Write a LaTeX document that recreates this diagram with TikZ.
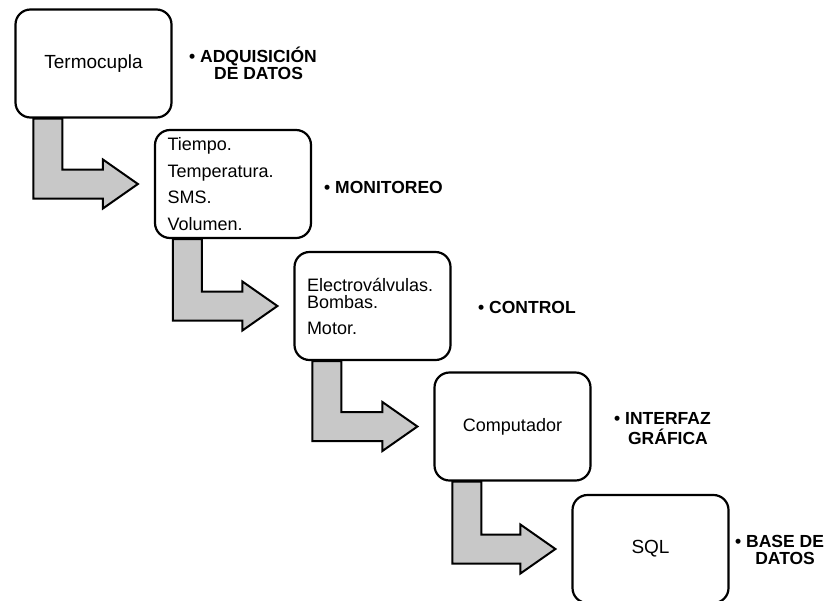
\documentclass[tikz,border=0pt]{standalone}
\usepackage{fontspec}
\setmainfont{Liberation Sans}
\usetikzlibrary{calc,backgrounds}
\definecolor{grisf}{RGB}{200,200,200}

\tikzset{
  caja/.style={draw, line width=2.2pt, rounded corners=15pt, fill=white,
    minimum width=156pt, minimum height=108pt, inner xsep=12.5pt,
    font=\fontsize{18}{26.5}\selectfont},
  lista/.style={text width=131pt, align=left},
  etiqueta/.style={inner sep=0pt, anchor=base west,
    font=\bfseries\fontsize{17.5}{16.5}\selectfont},
  flecha/.style={draw, line width=2pt, fill=grisf, line join=miter}
}

\begin{document}
\begin{tikzpicture}[x=1pt,y=-1pt]
  \useasboundingbox (0,0) rectangle (834,600);

  % cajas
  \node [caja, font=\fontsize{19}{23}\selectfont] (term) at (93.5,63.5) {Termocupla};
  \node [caja, lista] (mon) at (233,184)
    {Tiempo.\\ Temperatura.\\ SMS.\\ Volumen.};
  \node [caja, lista, font=\fontsize{18}{17}\selectfont] (ctrl) at (372.5,306)
    {Electroválvulas.\\ Bombas.\\[9pt] Motor.};
  \node [caja] (comp) at (512.5,426.5) {Computador};
  \node [caja, font=\fontsize{19}{23}\selectfont] (sql) at (650.5,549) {SQL};

  % etiquetas
  \node [etiqueta] (ladq) at (189,62)
    {\textbullet\ \begin{tabular}[t]{@{}c@{}}ADQUISICIÓN\\DE DATOS\end{tabular}};
  \node [etiqueta] (lmon) at (324,193) {\textbullet\ MONITOREO};
  \node [etiqueta] (lctrl) at (478,313) {\textbullet\ CONTROL};
  \node [etiqueta] (lint) at (614,424)
    {\textbullet\ \begin{tabular}[t]{@{}c@{}}INTERFAZ\\GRÁFICA\end{tabular}};
  \node [etiqueta] (lbd) at (735,547)
    {\textbullet\ \begin{tabular}[t]{@{}c@{}}BASE DE\\DATOS\end{tabular}};

  % flechas
  \begin{scope}[on background layer]
    \foreach \a/\b in {term/mon, mon/ctrl, ctrl/comp, comp/sql} {
      \draw [flecha] ($(\a.south west)+(19,0)$) -- ($(\a.south west)+(48,0)$)
        |- ($(\b.west)+(-51,-14.5)$) -- ++(0,-10) -- ($(\b.west)+(-16,0)$)
        -- ($(\b.west)+(-51,24.5)$) -- ++(0,-10)
        -| ($(\a.south west)+(19,0)$) -- cycle;
    }
  \end{scope}
\end{tikzpicture}
\end{document}
